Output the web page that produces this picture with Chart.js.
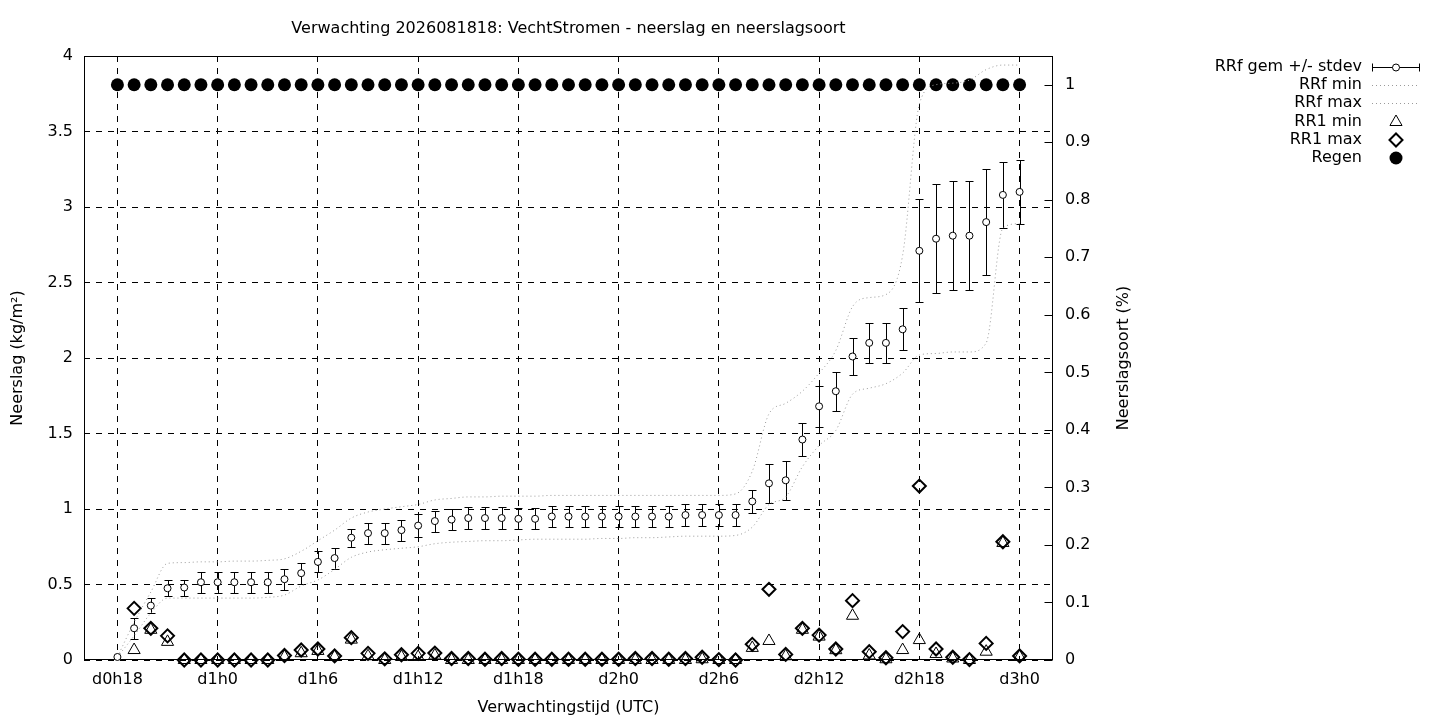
<!DOCTYPE html>
<html>
<head>
<meta charset="utf-8">
<script src="https://cdn.jsdelivr.net/npm/chart.js@4/dist/chart.umd.min.js"></script>
<style>
  html, body { margin: 0; padding: 0; background: #fff; }
  #wrap { width: 1440px; height: 720px; position: relative; }
</style>
</head>
<body>
<div id="wrap"><canvas id="chart"></canvas></div>
<script>
// forecast hours after d0h18
const hours = [0, 1, 2, 3, 4, 5, 6, 7, 8, 9, 10, 11, 12, 13, 14, 15, 16, 17, 18, 19, 20, 21, 22, 23, 24, 25, 26,
  27, 28, 29, 30, 31, 32, 33, 34, 35, 36, 37, 38, 39, 40, 41, 42, 43, 44, 45, 46, 47, 48, 49, 50, 51, 52, 53, 54];

const rrfMean = [0.02, 0.21, 0.36, 0.475, 0.48, 0.515, 0.515, 0.515, 0.515, 0.515, 0.535, 0.575, 0.65, 0.675, 0.81,
  0.84, 0.84, 0.86, 0.89, 0.92, 0.93, 0.94, 0.94, 0.94, 0.935, 0.935, 0.95, 0.95, 0.95, 0.95, 0.95, 0.95, 0.95,
  0.95, 0.96, 0.96, 0.96, 0.96, 1.05, 1.17, 1.19, 1.46, 1.68, 1.78, 2.01, 2.10, 2.10, 2.19, 2.71, 2.79, 2.81,
  2.81, 2.90, 3.08, 3.10];

const rrfStdev = [0, 0.068, 0.05, 0.052, 0.053, 0.07, 0.07, 0.07, 0.07, 0.07, 0.07, 0.07, 0.07, 0.07, 0.06, 0.07,
  0.07, 0.07, 0.074, 0.07, 0.07, 0.07, 0.07, 0.07, 0.07, 0.07, 0.069, 0.069, 0.069, 0.069, 0.07, 0.07, 0.07, 0.07,
  0.07, 0.07, 0.07, 0.07, 0.078, 0.128, 0.13, 0.11, 0.135, 0.13, 0.12, 0.13, 0.13, 0.14, 0.34, 0.36, 0.36, 0.36,
  0.35, 0.22, 0.21];

const rrfMin = [0.02, 0.16, 0.31, 0.41, 0.41, 0.41, 0.41, 0.41, 0.41, 0.415, 0.43, 0.49, 0.53, 0.60, 0.68, 0.715,
  0.73, 0.74, 0.75, 0.77, 0.78, 0.785, 0.79, 0.79, 0.795, 0.80, 0.80, 0.80, 0.80, 0.805, 0.805, 0.81, 0.81, 0.815,
  0.82, 0.82, 0.82, 0.825, 0.88, 1.03, 1.08, 1.28, 1.42, 1.52, 1.76, 1.80, 1.83, 1.90, 2.02, 2.03, 2.04, 2.04,
  2.10, 2.86, 2.89];

const rrfMax = [0.02, 0.25, 0.45, 0.64, 0.645, 0.65, 0.65, 0.655, 0.655, 0.66, 0.67, 0.72, 0.79, 0.86, 0.94, 0.98,
  1.00, 1.015, 1.03, 1.06, 1.07, 1.08, 1.08, 1.085, 1.085, 1.085, 1.09, 1.09, 1.09, 1.09, 1.09, 1.09, 1.09, 1.09,
  1.09, 1.09, 1.09, 1.10, 1.25, 1.63, 1.70, 1.78, 1.90, 2.05, 2.34, 2.40, 2.42, 2.68, 3.68, 3.81, 3.82, 3.84,
  3.91, 3.94, 3.94];

const rr1Min = [null, 0.066, 0.20, 0.12, 0, 0, 0, 0, 0, 0, 0.02, 0.045, 0.06, 0.02, 0.135, 0.025, 0, 0.02, 0.02,
  0.03, 0, 0, 0, 0, 0, 0, 0, 0, 0, 0, 0, 0, 0, 0, 0, 0.005, 0, 0, 0.08, 0.126, 0.025, 0.20, 0.155, 0.065, 0.293,
  0.03, 0.005, 0.066, 0.132, 0.04, 0.01, 0, 0.055, 0.775, 0.02];

const rr1Max = [null, 0.342, 0.21, 0.16, 0, 0, 0, 0, 0, 0, 0.03, 0.066, 0.073, 0.027, 0.148, 0.044, 0.008, 0.035,
  0.044, 0.046, 0.01, 0.01, 0.005, 0.01, 0.005, 0.005, 0.005, 0.005, 0.005, 0.005, 0.005, 0.01, 0.01, 0.005, 0.01,
  0.018, 0.003, 0, 0.104, 0.468, 0.037, 0.21, 0.165, 0.073, 0.393, 0.055, 0.015, 0.188, 1.152, 0.073, 0.018,
  0.003, 0.11, 0.783, 0.027];

const regen = [1, 1, 1, 1, 1, 1, 1, 1, 1, 1, 1, 1, 1, 1, 1, 1, 1, 1, 1, 1, 1, 1, 1, 1, 1, 1, 1, 1, 1, 1, 1, 1, 1,
  1, 1, 1, 1, 1, 1, 1, 1, 1, 1, 1, 1, 1, 1, 1, 1, 1, 1, 1, 1, 1, 1];

const xTickValues = [0, 6, 12, 18, 24, 30, 36, 42, 48, 54];
const xTickLabels = ['d0h18', 'd1h0', 'd1h6', 'd1h12', 'd1h18', 'd2h0', 'd2h6', 'd2h12', 'd2h18', 'd3h0'];
const yTickValues = [0, 0.5, 1, 1.5, 2, 2.5, 3, 3.5, 4];
const yTickLabels = ['0', '0.5', '1', '1.5', '2', '2.5', '3', '3.5', '4'];
const y2TickValues = [0, 0.1, 0.2, 0.3, 0.4, 0.5, 0.6, 0.7, 0.8, 0.9, 1];
const y2TickLabels = ['0', '0.1', '0.2', '0.3', '0.4', '0.5', '0.6', '0.7', '0.8', '0.9', '1'];
const legendLabels = ['RRf gem +/- stdev', 'RRf min', 'RRf max', 'RR1 min', 'RR1 max', 'Regen'];

const FONT = '"DejaVu Sans", sans-serif';
const FSIZE = 16;
const DOTTED = '#9a9a9a';
Chart.defaults.font.family = FONT;
Chart.defaults.font.size = FSIZE;
Chart.defaults.color = '#000';

const pts = (ys) => hours.map((h, i) => ({ x: h, y: ys[i] }));

const decorations = {
  id: 'decorations',
  beforeDatasetsDraw(chart) {
    const { ctx, chartArea: a, scales } = chart;
    const L = Math.round(a.left) + 0.5, R = Math.round(a.right) - 0.5;
    const T = Math.round(a.top) + 0.5, B = Math.round(a.bottom) - 0.5;
    ctx.save();
    ctx.strokeStyle = '#000';
    ctx.lineWidth = 1;
    ctx.setLineDash([]);
    ctx.strokeRect(L, T, R - L, B - T);

    // inward tics on the right axis
    ctx.beginPath();
    y2TickValues.forEach((v) => {
      const y = Math.round(scales.y2.getPixelForValue(v)) + 0.5;
      ctx.moveTo(R - 8, y);
      ctx.lineTo(R, y);
    });
    ctx.stroke();

    // error bars
    ctx.beginPath();
    hours.forEach((h, i) => {
      if (!rrfStdev[i]) return;
      const x = Math.round(scales.x.getPixelForValue(h)) + 0.5;
      const lo = Math.round(scales.y.getPixelForValue(rrfMean[i] - rrfStdev[i])) + 0.5;
      const hi = Math.round(scales.y.getPixelForValue(rrfMean[i] + rrfStdev[i])) + 0.5;
      ctx.moveTo(x, lo); ctx.lineTo(x, hi);
      ctx.moveTo(x - 4, lo); ctx.lineTo(x + 4, lo);
      ctx.moveTo(x - 4, hi); ctx.lineTo(x + 4, hi);
    });
    ctx.stroke();
    ctx.restore();
  },
  afterDraw(chart) {
    const { ctx, chartArea: a } = chart;
    ctx.save();
    ctx.fillStyle = '#000';
    ctx.font = FSIZE + 'px ' + FONT;
    ctx.textBaseline = 'middle';

    ctx.textAlign = 'center';
    ctx.fillText('Verwachting 2026081818: VechtStromen - neerslag en neerslagsoort', (a.left + a.right) / 2, 29);

    ctx.save();
    ctx.translate(1124, (a.top + a.bottom) / 2);
    ctx.rotate(-Math.PI / 2);
    ctx.fillText('Neerslagsoort (%)', 0, 0);
    ctx.restore();

    // legend
    const rows = [67, 85, 103, 122, 140, 158];
    const sx = 1396;
    ctx.textAlign = 'right';
    legendLabels.forEach((t, i) => ctx.fillText(t, 1362, rows[i]));

    ctx.strokeStyle = '#000';
    ctx.lineWidth = 1;
    let y = rows[0] + 0.5;
    ctx.beginPath();
    ctx.moveTo(1372, y); ctx.lineTo(1420, y);
    ctx.moveTo(1372.5, y - 4); ctx.lineTo(1372.5, y + 4);
    ctx.moveTo(1419.5, y - 4); ctx.lineTo(1419.5, y + 4);
    ctx.stroke();
    ctx.beginPath();
    ctx.arc(sx, y, 3.5, 0, Math.PI * 2);
    ctx.fillStyle = '#fff'; ctx.fill(); ctx.stroke();

    ctx.strokeStyle = DOTTED;
    ctx.setLineDash([1, 3]);
    [rows[1], rows[2]].forEach((ry) => {
      ctx.beginPath(); ctx.moveTo(1372, ry + 0.5); ctx.lineTo(1420, ry + 0.5); ctx.stroke();
    });
    ctx.setLineDash([]);

    ctx.strokeStyle = '#000';
    y = rows[3];
    ctx.beginPath();
    ctx.moveTo(sx, y - 7); ctx.lineTo(sx + 6.06, y + 3.5); ctx.lineTo(sx - 6.06, y + 3.5); ctx.closePath();
    ctx.stroke();

    y = rows[4];
    ctx.lineWidth = 2;
    ctx.beginPath();
    ctx.moveTo(sx - 6.5, y); ctx.lineTo(sx, y - 6.5); ctx.lineTo(sx + 6.5, y); ctx.lineTo(sx, y + 6.5); ctx.closePath();
    ctx.stroke();

    y = rows[5];
    ctx.fillStyle = '#000';
    ctx.beginPath(); ctx.arc(sx, y, 6.5, 0, Math.PI * 2); ctx.fill();
    ctx.restore();
  }
};

new Chart(document.getElementById('chart'), {
  type: 'scatter',
  data: {
    datasets: [
      { label: 'RRf gem +/- stdev', data: pts(rrfMean), pointStyle: 'circle', pointRadius: 3.5, pointBackgroundColor: '#fff',
        pointBorderColor: '#000', pointBorderWidth: 1, yAxisID: 'y', clip: false },
      { type: 'line', label: 'RRf min', data: pts(rrfMin), borderColor: DOTTED, borderWidth: 1, borderDash: [1, 3],
        pointRadius: 0, cubicInterpolationMode: 'monotone', fill: false, yAxisID: 'y' },
      { type: 'line', label: 'RRf max', data: pts(rrfMax), borderColor: DOTTED, borderWidth: 1, borderDash: [1, 3],
        pointRadius: 0, cubicInterpolationMode: 'monotone', fill: false, yAxisID: 'y' },
      { label: 'RR1 min', data: pts(rr1Min), pointStyle: 'triangle', pointRadius: 7, pointBackgroundColor: 'rgba(0,0,0,0)',
        pointBorderColor: '#000', pointBorderWidth: 1, yAxisID: 'y', clip: false },
      { label: 'RR1 max', data: pts(rr1Max), pointStyle: 'rectRot', pointRadius: 6.5, pointBackgroundColor: 'rgba(0,0,0,0)',
        pointBorderColor: '#000', pointBorderWidth: 2, yAxisID: 'y', clip: false },
      { label: 'Regen', data: pts(regen), pointStyle: 'circle', pointRadius: 6.5, pointBackgroundColor: '#000',
        pointBorderColor: '#000', pointBorderWidth: 0, yAxisID: 'y2', clip: false }
    ]
  },
  options: {
    responsive: true,
    maintainAspectRatio: false,
    animation: false,
    layout: { padding: { top: 56, left: 0, right: 0, bottom: 0 } },
    plugins: { legend: { display: false }, tooltip: { enabled: false }, title: { display: false } },
    elements: { point: { hoverRadius: 0 } },
    scales: {
      x: {
        type: 'linear', position: 'bottom', min: -2, max: 56,
        afterBuildTicks: (s) => { s.ticks = xTickValues.map((v) => ({ value: v })); },
        afterFit: (s) => { s.height = 60; },
        ticks: { callback: (v, i) => xTickLabels[i], padding: 10, maxRotation: 0, autoSkip: false },
        grid: { color: '#000', lineWidth: 1, drawTicks: false },
        border: { display: false, dash: [6, 6] },
        title: { display: true, text: 'Verwachtingstijd (UTC)', padding: { top: 0, bottom: 3 } }
      },
      y: {
        type: 'linear', position: 'left', min: 0, max: 4,
        afterBuildTicks: (s) => { s.ticks = yTickValues.map((v) => ({ value: v })); },
        afterFit: (s) => { s.width = 84; },
        ticks: { callback: (v, i) => yTickLabels[i], padding: 11 },
        grid: { color: '#000', lineWidth: 1, drawTicks: false },
        border: { display: false, dash: [6, 6] },
        title: { display: true, text: 'Neerslag (kg/m²)', padding: { top: 8, bottom: 0 } }
      },
      y2: {
        type: 'linear', position: 'right', min: 0, max: 1.05,
        afterBuildTicks: (s) => { s.ticks = y2TickValues.map((v) => ({ value: v })); },
        afterFit: (s) => { s.width = 387; },
        ticks: { callback: (v, i) => y2TickLabels[i], padding: 12 },
        grid: { drawOnChartArea: false, drawTicks: false },
        border: { display: false }
      }
    }
  },
  plugins: [decorations]
});
</script>
</body>
</html>
